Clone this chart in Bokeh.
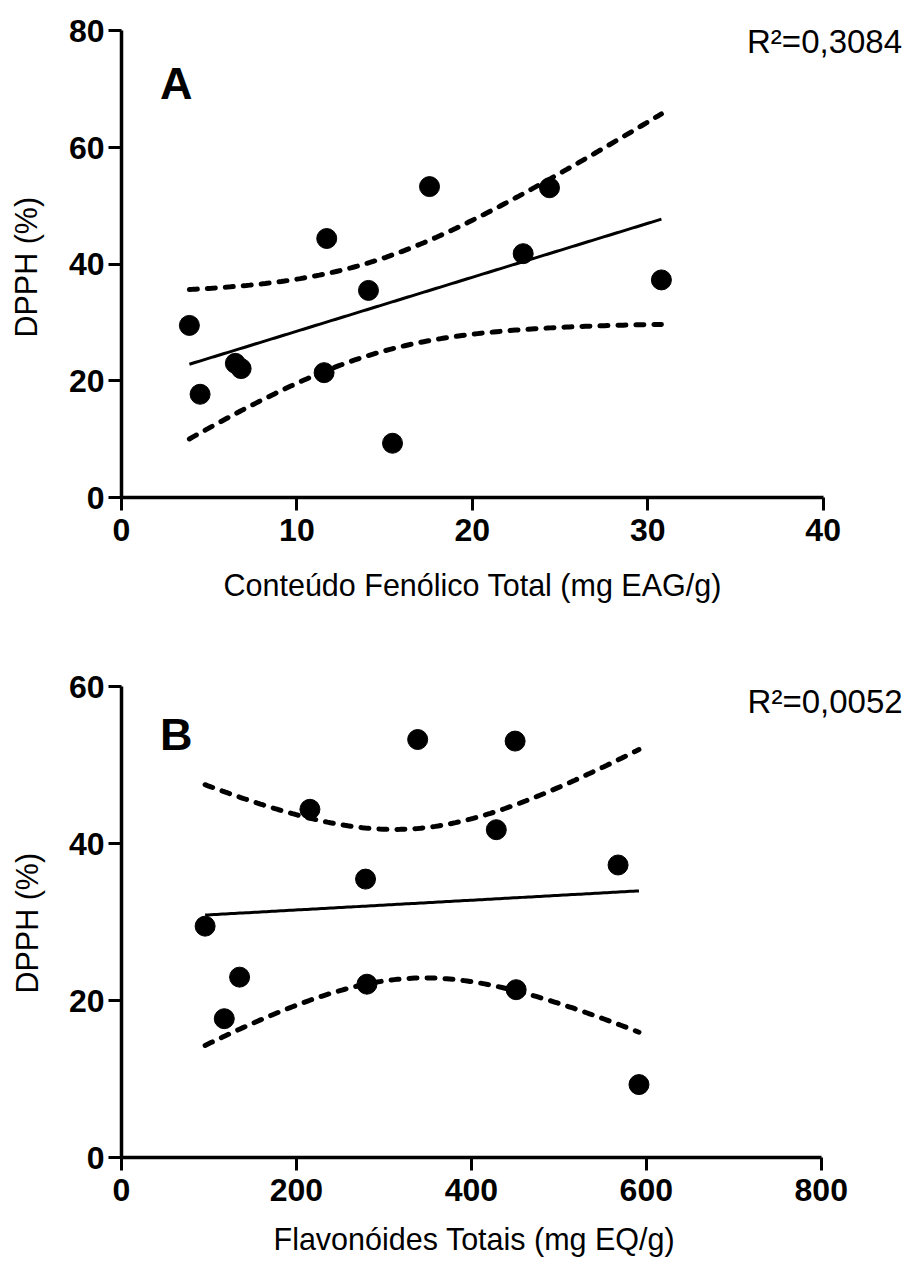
import numpy as np
from bokeh.plotting import figure
from bokeh.layouts import column
from bokeh.models import FixedTicker, Label, Title
from bokeh.embed import file_html
from bokeh.resources import INLINE

# ---- data ----
dpph = [29.5, 17.7, 23.0, 22.1, 21.4, 44.4, 35.5, 9.3, 53.3, 41.8, 53.1, 37.3]
fenolicos = [3.87, 4.48, 6.49, 6.82, 11.55, 11.7, 14.08, 15.45, 17.56, 22.9, 24.4, 30.78]
flavonoides = [95.6, 117.5, 135.0, 280.6, 451.2, 215.4, 279.0, 591.6, 338.6, 428.5, 450.0, 567.7]

ticks_a_x = [0, 10, 20, 30, 40]
ticks_a_y = [0, 20, 40, 60, 80]
ticks_b_x = [0, 200, 400, 600, 800]
ticks_b_y = [0, 20, 40, 60]

r2_a = "R²=0,3084"
r2_b = "R²=0,0052"
title_x_a = "Conteúdo Fenólico Total (mg EAG/g)"
title_x_b = "Flavonóides Totais (mg EQ/g)"
title_y = "DPPH (%)"

T_975_DF10 = 2.228  # Student t, 95 % two-sided, n-2 = 10


def fit_band(xs, ys, n=150):
    x = np.asarray(xs, float)
    y = np.asarray(ys, float)
    b, a = np.polyfit(x, y, 1)
    xf = np.linspace(x.min(), x.max(), n)
    yf = a + b * xf
    resid = y - (a + b * x)
    s = np.sqrt((resid ** 2).sum() / (len(x) - 2))
    sxx = ((x - x.mean()) ** 2).sum()
    half = T_975_DF10 * s * np.sqrt(1 / len(x) + (xf - x.mean()) ** 2 / sxx)
    return xf, yf, yf - half, yf + half


FONT = "Liberation Sans"


def style(p, xb, yb, xt, yt, xgap, ygap):
    p.grid.visible = False
    p.outline_line_color = None
    p.background_fill_color = "white"
    p.border_fill_color = "white"
    for ax in (p.xaxis[0], p.yaxis[0]):
        ax.axis_line_width = 3.5
        ax.axis_line_color = "black"
        ax.major_tick_line_width = 3
        ax.major_tick_line_color = "black"
        ax.major_tick_in = 0
        ax.major_tick_out = 13
        ax.minor_tick_line_color = None
        ax.major_label_text_font = FONT
        ax.major_label_text_font_style = "bold"
        ax.major_label_text_font_size = "32px"
        ax.major_label_text_color = "black"
        # blank spacer label: only reserves room between ticks and title
        ax.axis_label = " "
        ax.axis_label_text_font_size = "1px"
    p.xaxis[0].axis_label_standoff = xgap
    p.yaxis[0].axis_label_standoff = ygap
    p.xaxis[0].ticker = FixedTicker(ticks=xt)
    p.yaxis[0].ticker = FixedTicker(ticks=yt)
    p.xaxis[0].bounds = xb
    p.yaxis[0].bounds = yb
    p.xaxis[0].major_label_standoff = 8
    p.yaxis[0].major_label_standoff = 4


def axis_title(text, offset, standoff):
    return Title(text=text, align="left", offset=offset, standoff=standoff,
                 text_font=FONT, text_font_style="normal",
                 text_font_size="30.5px", text_color="black")


def panel(xs, ys, width, height, left, top, bottom, xr, yr, xb, yb, xt, yt,
          xlabel, xoff, yoff, xgap, ygap, letter, letter_xy, r2, r2_xy):
    p = figure(width=width, height=height, x_range=xr, y_range=yr,
               output_backend="svg", toolbar_location=None,
               min_border_left=left, min_border_right=0,
               min_border_top=top, min_border_bottom=bottom)
    style(p, xb, yb, xt, yt, xgap, ygap)
    p.add_layout(axis_title(xlabel, xoff, 2), "below")
    p.add_layout(axis_title(title_y, yoff, 2), "left")
    xf, yf, lo, hi = fit_band(xs, ys)
    p.line(xf, yf, line_color="black", line_width=3)
    for band in (lo, hi):
        p.line(xf, band, line_color="black", line_width=5,
               line_dash="8 10", line_cap="round")
    p.scatter(xs, ys, size=20, marker="circle", fill_color="black",
              line_color="black")
    p.add_layout(Label(x=letter_xy[0], y=letter_xy[1], text=letter,
                       text_font=FONT, text_font_style="bold",
                       text_font_size="45px", text_color="black",
                       text_baseline="alphabetic", text_align="left"))
    p.add_layout(Label(x=r2_xy[0], y=r2_xy[1], text=r2,
                       text_font=FONT, text_font_size="33px",
                       text_color="black", text_baseline="alphabetic",
                       text_align="right"))
    return p


pa = panel(fenolicos, dpph, 907, 640, 121, 0, 143,
           (0, 44.81), (0, 85.2), (0, 40), (0, 80), ticks_a_x, ticks_a_y,
           title_x_a, 102, 160, 17, 18, "A", (2.2, 70.9), r2_a, (44.5, 78.2))
pb = panel(flavonoides, dpph, 907, 624, 117, 30, 107,
           (0, 898.6), (0, 62.1), (0, 800), (0, 60), ticks_b_x, ticks_b_y,
           title_x_b, 152, 164, 11, 17, "B", (44, 53.9), r2_b, (893, 58.2))

layout = column(pa, pb, spacing=0)
open("out.html", "w").write(file_html(layout, INLINE))
